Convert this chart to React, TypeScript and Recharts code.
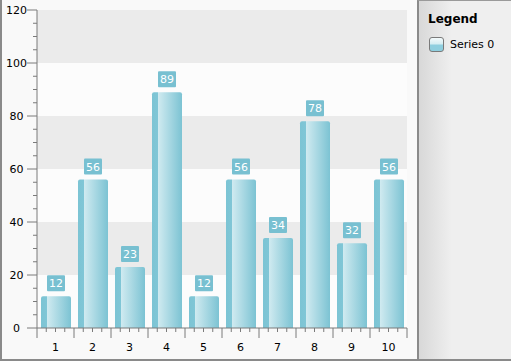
import React from 'react';
import { BarChart, Bar, XAxis, YAxis, ReferenceArea, LabelList } from 'recharts';

const categories = ['1', '2', '3', '4', '5', '6', '7', '8', '9', '10'];
const series0 = [12, 56, 23, 89, 12, 56, 34, 78, 32, 56];
const yTicks = [0, 20, 40, 60, 80, 100, 120];
const minorStep = 5;
const seriesName = 'Series 0';

const data = categories.map((c, i) => ({ name: c, value: series0[i] }));

const minorTicks: number[] = [];
for (let v = yTicks[0]; v <= yTicks[yTicks.length - 1]; v += minorStep) minorTicks.push(v);

const bands = yTicks.slice(0, -1).map((v, i) => ({ y1: v, y2: yTicks[i + 1], fill: i % 2 === 0 ? '#fcfcfc' : '#ebebeb' }));

const CHART_W = 417;
const CHART_H = 361;
const MARGIN = { top: 10, right: 10, bottom: 3, left: 0 };
const Y_W = 37;
const X_H = 30;
const PLOT_LEFT = MARGIN.left + Y_W;
const PLOT_BOTTOM = CHART_H - MARGIN.bottom - X_H;
const BAND_W = (CHART_W - MARGIN.right - PLOT_LEFT) / categories.length;
const AXIS = '#7a7a7a';
const FONT = '"DejaVu Sans", Verdana, sans-serif';

const YTick = (props: any) => {
  const { y, payload } = props;
  const major = yTicks.includes(payload.value);
  return (
    <g>
      <line x1={PLOT_LEFT - (major ? 10 : 4)} x2={PLOT_LEFT} y1={y} y2={y} stroke={AXIS} />
      {major && (
        <text x={16.5} y={y} dy={4} textAnchor="middle" fontSize={11} fontFamily={FONT} fill="#000">
          {payload.value}
        </text>
      )}
    </g>
  );
};

const XTick = (props: any) => {
  const { x, payload, index } = props;
  const left = x - BAND_W / 2;
  const right = x + BAND_W / 2;
  return (
    <g>
      <line x1={left} x2={left} y1={PLOT_BOTTOM} y2={PLOT_BOTTOM + 10} stroke={AXIS} />
      {index === categories.length - 1 && (
        <line x1={right} x2={right} y1={PLOT_BOTTOM} y2={PLOT_BOTTOM + 10} stroke={AXIS} />
      )}
      {[0.25, 0.5, 0.75].map((f) => (
        <line key={f} x1={left + BAND_W * f} x2={left + BAND_W * f} y1={PLOT_BOTTOM} y2={PLOT_BOTTOM + 4} stroke={AXIS} />
      ))}
      <text x={x} y={PLOT_BOTTOM + 23} textAnchor="middle" fontSize={11} fontFamily={FONT} fill="#000">
        {payload.value}
      </text>
    </g>
  );
};

const BarLabel = (props: any) => {
  const { x, y, width, value } = props;
  const w = String(value).length * 6.5 + 5;
  const cx = x + width / 2;
  return (
    <g>
      <rect x={cx - w / 2} y={y - 21} width={w} height={16} fill="#78c0d1" rx={1} />
      <text x={cx} y={y - 9} textAnchor="middle" fontSize={11} fontFamily={FONT} fill="#fff">
        {value}
      </text>
    </g>
  );
};

export default function App() {
  return (
    <div
      style={{
        position: 'absolute',
        left: 0,
        top: 0,
        width: 511,
        height: 361,
        background: '#f9f9f9',
        boxSizing: 'border-box',
        borderLeft: '2px solid #8a8a8a',
        borderBottom: '2px solid #8a8a8a',
        overflow: 'hidden',
        fontFamily: FONT,
      }}
    >
      <div style={{ position: 'absolute', left: -2, top: 0 }}>
        <BarChart width={CHART_W} height={CHART_H} data={data} margin={MARGIN} barSize={30}>
          <defs>
            <linearGradient id="barFill" x1="0" y1="0" x2="1" y2="0">
              <stop offset="0%" stopColor="#7cc4d4" />
              <stop offset="19%" stopColor="#80c6d6" />
              <stop offset="21%" stopColor="#cfeaf0" />
              <stop offset="100%" stopColor="#7cc3d3" />
            </linearGradient>
          </defs>
          {bands.map((b) => (
            <ReferenceArea key={b.y1} y1={b.y1} y2={b.y2} fill={b.fill} fillOpacity={1} stroke="none" ifOverflow="visible" />
          ))}
          <XAxis
            dataKey="name"
            height={X_H}
            interval={0}
            tickLine={false}
            axisLine={{ stroke: AXIS }}
            tick={<XTick />}
          />
          <YAxis
            width={Y_W}
            domain={[yTicks[0], yTicks[yTicks.length - 1]]}
            ticks={minorTicks}
            interval={0}
            tickLine={false}
            axisLine={{ stroke: AXIS }}
            tick={<YTick />}
          />
          <Bar dataKey="value" name={seriesName} fill="url(#barFill)" radius={[2, 2, 0, 0]} isAnimationActive={false}>
            <LabelList dataKey="value" content={<BarLabel />} />
          </Bar>
        </BarChart>
      </div>
      <div
        style={{
          position: 'absolute',
          left: 415,
          top: 0,
          width: 96,
          height: 359,
          boxSizing: 'border-box',
          borderLeft: '2px solid #8a8a8a',
          borderTop: '1px solid #9a9a9a',
          background: 'linear-gradient(to right, #d8d8d8 0%, #efefef 35%, #efefef 100%)',
        }}
      >
        <div style={{ position: 'absolute', left: 9, top: 11, fontSize: 12, fontWeight: 'bold', color: '#000' }}>Legend</div>
        <div
          style={{
            position: 'absolute',
            left: 10,
            top: 36,
            width: 15,
            height: 15,
            boxSizing: 'border-box',
            border: '1px solid #7a7a7a',
            borderRadius: 3,
            background: 'linear-gradient(to bottom, #f4fafb 0%, #d6eef3 45%, #8fcfdf 55%, #8fcfdf 100%)',
          }}
        />
        <div style={{ position: 'absolute', left: 31, top: 37, fontSize: 11, color: '#000' }}>{seriesName}</div>
      </div>
    </div>
  );
}
